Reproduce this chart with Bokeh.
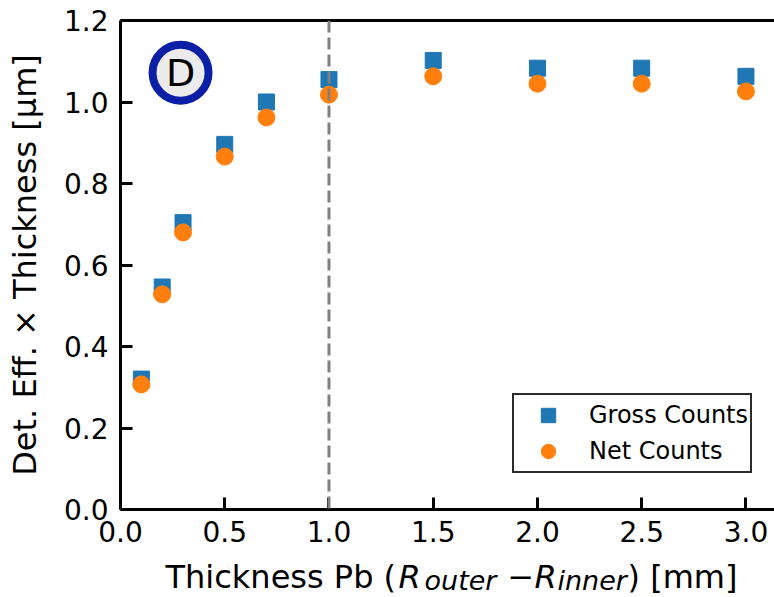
from bokeh.plotting import figure
from bokeh.layouts import column
from bokeh.models import Range1d, FixedTicker, PrintfTickFormatter, Span, Label, LinearAxis
from bokeh.core.properties import value
from bokeh.embed import file_html
from bokeh.resources import INLINE

# Lead shield thickness (mm) and detection efficiency x thickness (um)
thickness_mm = [0.1, 0.2, 0.3, 0.5, 0.7, 1.0, 1.5, 2.0, 2.5, 3.0]
gross_counts = [0.320, 0.546, 0.704, 0.896, 1.000, 1.055, 1.102, 1.083, 1.083, 1.063]
net_counts = [0.307, 0.528, 0.680, 0.866, 0.962, 1.018, 1.063, 1.045, 1.045, 1.026]

x_ticks = [0.0, 0.5, 1.0, 1.5, 2.0, 2.5, 3.0]
y_ticks = [0.0, 0.2, 0.4, 0.6, 0.8, 1.0, 1.2]
chosen_thickness = 1.0
panel_letter = "D"

BLUE = "#1f77b4"
ORANGE = "#ff7f0e"
FONT = "DejaVu Sans"

p = figure(
    width=774, height=555, title=None,
    x_range=Range1d(0, 3.137), y_range=Range1d(0, 1.2),
    output_backend="svg", toolbar_location=None,
    min_border_left=120, min_border_right=0,
    min_border_top=20, min_border_bottom=46,
    background_fill_color="white", border_fill_color="white",
)
p.outline_line_color = None
p.grid.visible = False

# axes styled as inward-ticking spines
for ax in (p.xaxis[0], p.yaxis[0]):
    ax.axis_line_width = 3
    ax.axis_line_color = "black"
    ax.major_tick_in = 12
    ax.major_tick_out = 0
    ax.major_tick_line_width = 3
    ax.major_tick_line_color = "black"
    ax.minor_tick_line_color = None
    ax.major_label_text_font = FONT
    ax.major_label_text_font_size = "28px"
    ax.major_label_text_color = "black"
    ax.formatter = PrintfTickFormatter(format="%.1f")

p.xaxis[0].ticker = FixedTicker(ticks=x_ticks)
p.yaxis[0].ticker = FixedTicker(ticks=y_ticks)
p.xaxis[0].major_label_standoff = 11
p.yaxis[0].major_label_standoff = 12

p.yaxis[0].axis_label = "Det. Eff. \u00d7 Thickness [\u03bcm]"
p.yaxis[0].axis_label_text_font = FONT
p.yaxis[0].axis_label_text_font_size = "32px"
p.yaxis[0].axis_label_text_font_style = "normal"
p.yaxis[0].axis_label_text_color = "black"
p.yaxis[0].axis_label_standoff = 17

# top spine
top = LinearAxis(axis_line_width=3, axis_line_color="black",
                 major_tick_line_color=None, minor_tick_line_color=None,
                 major_label_text_font_size="0px")
top.ticker = FixedTicker(ticks=[])
p.add_layout(top, "above")

# reference thickness
p.add_layout(Span(location=chosen_thickness, dimension="height",
                  line_color="#808080", line_width=3, line_dash="12 5"))

p.scatter(thickness_mm, gross_counts, marker="square", size=16,
          fill_color=BLUE, line_color=BLUE, legend_label="Gross Counts")
p.scatter(thickness_mm, net_counts, marker="circle", size=17,
          fill_color=ORANGE, line_color=ORANGE, legend_label="Net Counts")

lg = p.legend[0]
lg.location = (392, 36)
lg.label_text_font = FONT
lg.label_text_font_size = "24px"
lg.label_text_color = "black"
lg.glyph_width = 64
lg.glyph_height = 36
lg.label_height = 36
lg.spacing = 0
lg.padding = 2
lg.label_standoff = 9
lg.margin = 0
lg.border_line_color = "#2b2b2b"
lg.border_line_alpha = 1.0
lg.border_line_width = 2.5
lg.background_fill_color = "white"
lg.background_fill_alpha = 1.0

# panel badge
p.scatter([0.288], [1.072], marker="circle", size=56, fill_color="#ebebeb",
          line_color="#0a1ea6", line_width=8)
p.add_layout(Label(x=0.288, y=1.072, text=panel_letter, text_font=FONT,
                   text_font_size="38px", text_align="center",
                   text_baseline="middle", text_color="black"))

# x-axis title with subscripted radii, set in a strip under the plot;
# the strip's frame lines up with the plot frame (left edge at 120 px)
strip = figure(
    width=774, height=42, title=None,
    x_range=Range1d(120, 774), y_range=Range1d(0, 42),
    output_backend="svg", toolbar_location=None, min_border=0,
    background_fill_color="white", border_fill_color="white",
)
strip.outline_line_color = None
strip.axis.visible = False
strip.grid.visible = False

title_pieces = [
    # (left edge px, text middle px from strip bottom, text, size, style)
    (165, 21, "Thickness Pb (", "32px", "normal"),
    (398, 21, "R", "32px", "italic"),
    (424, 17, "outer", "27px", "italic"),
    (507, 21, "\u2212", "32px", "normal"),
    (534, 21, "R", "32px", "italic"),
    (557, 17, "inner", "27px", "italic"),
    (627, 21, ") [mm]", "32px", "normal"),
]
for px, py, txt, size, style in title_pieces:
    strip.text(x=[px], y=[py], text=[txt], text_font=value(FONT),
               text_font_size=value(size), text_font_style=value(style),
               text_align="left", text_baseline="middle", text_color="black")

layout = column(p, strip, spacing=0)
open("out.html", "w").write(file_html(layout, INLINE))
